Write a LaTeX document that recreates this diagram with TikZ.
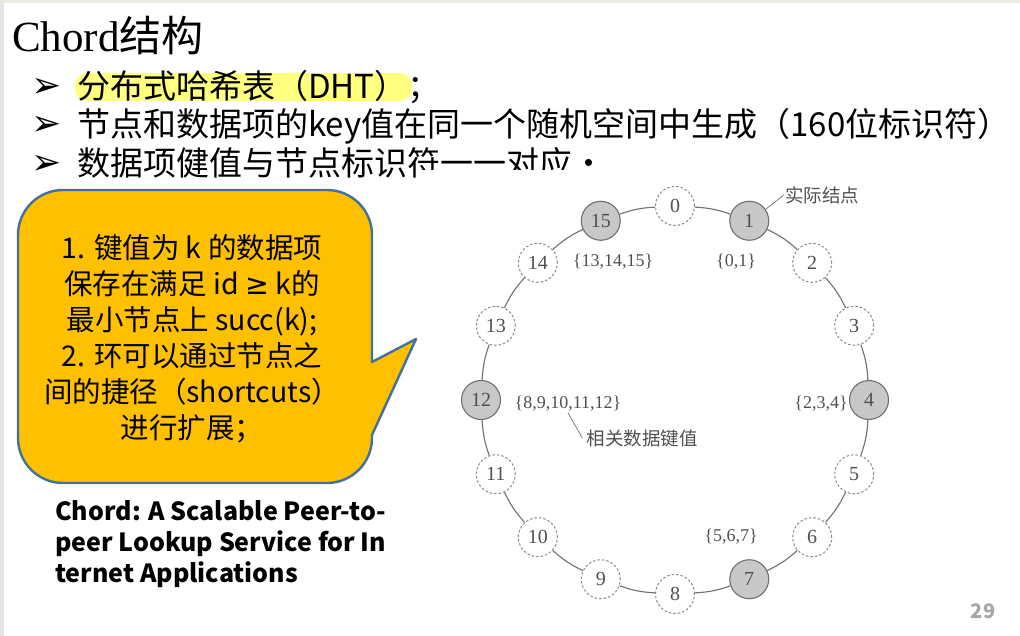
\documentclass[tikz,border=0pt]{standalone}
\usepackage{fontspec}
\setmainfont{Noto Sans CJK SC}
\newfontfamily\serifnum{Liberation Serif}
\newfontfamily\dingfont{DejaVu Sans}
\usetikzlibrary{calc}

\definecolor{callfill}{HTML}{FFC000}
\definecolor{callline}{HTML}{41719C}
\definecolor{hilite}{HTML}{FFFF80}
\definecolor{ringgray}{HTML}{707070}
\definecolor{dashgray}{HTML}{8A8A8A}
\definecolor{nodefill}{HTML}{C8C8C8}
\definecolor{labgray}{HTML}{505050}
\definecolor{pagegray}{HTML}{A6A6A6}
\definecolor{topband}{HTML}{ECECE4}
\definecolor{sideband}{HTML}{E4E4E4}

\begin{document}
\begin{tikzpicture}[x=1pt,y=-1pt,
  bulletmark/.style={anchor=base,inner sep=0pt,font=\dingfont\fontsize{36}{36}\selectfont},
  bullettext/.style={anchor=base west,inner sep=0pt,font=\fontsize{33}{38}\selectfont},
  realnode/.style={circle,draw=ringgray,fill=nodefill,line width=1.1pt,minimum size=39pt,
    inner sep=0pt,font=\serifnum\fontsize{20}{20}\selectfont,text=labgray},
  virtnode/.style={circle,draw=dashgray,dash pattern=on 2.5pt off 2pt,fill=white,line width=1pt,
    minimum size=39pt,inner sep=0pt,font=\serifnum\fontsize{20}{20}\selectfont,text=labgray},
  ringedge/.style={draw=ringgray,line width=1.1pt},
  leader/.style={draw=ringgray,line width=0.7pt},
  keyset/.style={inner sep=1pt,font=\serifnum\fontsize{18}{18}\selectfont,text=labgray},
  note/.style={inner sep=1pt,font=\fontsize{18.5}{18.5}\selectfont,text=labgray},
  callout/.style={fill=callfill,draw=callline,line width=2.4pt,line join=round},
]

\useasboundingbox (0,0) rectangle (1020,636);
\fill[white] (0,0) rectangle (1020,636);
\fill[topband] (0,0) rectangle (1020,3);
\fill[sideband] (0,0) rectangle (4,636);

% heading
\node[anchor=base west,inner sep=0pt] (title) at (12,52)
  {{\serifnum\fontsize{43}{43}\selectfont Chord}{\fontsize{42}{42}\selectfont 结构}};

% bullet list
\fill[hilite,rounded corners=12pt] (75,73) rectangle (412,101);
\node[bulletmark] (b1) at (47,98) {➢};
\node[bullettext] (t1) at (77,99) {分布式哈希表（DHT）；};
\node[bulletmark] (b2) at (47,136) {➢};
\node[bullettext] (t2) at (77,137) {节点和数据项的key值在同一个随机空间中生成（160位标识符）};
\node[bulletmark] (b3) at (47,175) {➢};
\node[bullettext] (t3) at (77,176) {数据项健值与节点标识符一一对应·};

% figure panel
\fill[white] (419,170) rectangle (1008,628);

% ring of identifiers
\foreach \k [evaluate=\k as \a using -90+22.5*\k] in {1,4,7,12,15}
  \node[realnode] (n\k) at ($(675,400)+(\a:194)$) {\k};
\foreach \k [evaluate=\k as \a using -90+22.5*\k] in {0,2,3,5,6,8,9,10,11,13,14}
  \node[virtnode] (n\k) at ($(675,400)+(\a:194)$) {\k};
\foreach \k [remember=\k as \p (initially 15)] in {0,...,15}
  \draw[ringedge] (n\p) to[bend left=8] (n\k);

% key sets held by each node
\node[keyset] (k15) at (613,262) {\{13,14,15\}};
\node[keyset] (k1)  at (736,262) {\{0,1\}};
\node[keyset] (k12) at (568,404) {\{8,9,10,11,12\}};
\node[keyset] (k4)  at (821,404) {\{2,3,4\}};
\node[keyset] (k7)  at (731,537) {\{5,6,7\}};

\node[note] (lblreal) at (822,195) {实际结点};
\draw[leader] (lblreal.west) -- (n1.35);
\node[note] (lblkeys) at (642,438) {相关数据键值};
\draw[leader] (k12.south) -- ([xshift=-3pt]lblkeys.west);

% speech bubble
\draw[callout] (195,190) [rounded corners=45pt] -- (372,190) -- (372,300)
  [sharp corners] -- (372,362) -- (416,339) -- (372,435) -- (372,437)
  [rounded corners=45pt] -- (372,483) -- (18,483) -- (18,190) -- cycle;
\node[align=center,inner sep=0pt,font=\fontsize{28.5}{36}\selectfont] (bubbletext) at (192,339)
  {1. 键值为 k 的数据项\\保存在满足 id {\dingfont ≥} k的\\最小节点上 succ(k);\\2. 环可以通过节点之\\间的捷径（shortcuts）\\进行扩展；};

% reference
\node[anchor=north west,align=left,inner sep=0pt,font=\bfseries\fontsize{25}{31}\selectfont] (paper) at (55,500)
  {Chord: A Scalable Peer-to-\\peer Lookup Service for In\\ternet Applications};

\node[inner sep=0pt,font=\bfseries\fontsize{20}{20}\selectfont,text=pagegray] (pagenum) at (983,611) {29};
\end{tikzpicture}
\end{document}
